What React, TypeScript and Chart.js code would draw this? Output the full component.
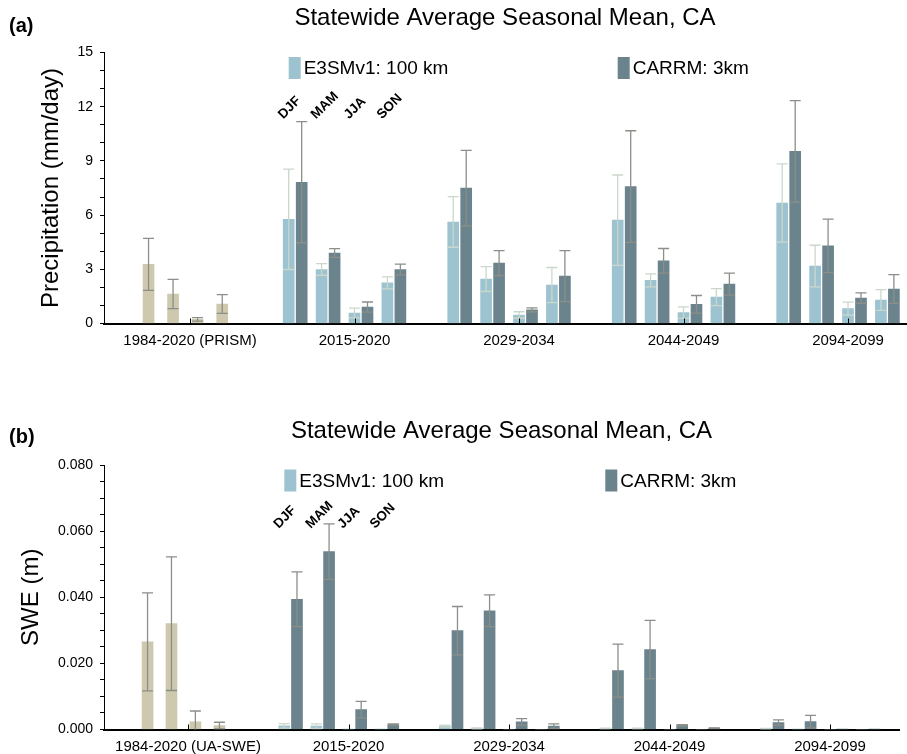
import React, { useEffect, useRef } from "react";
import { Chart, registerables } from "chart.js";

Chart.register(...registerables);
Chart.defaults.font.family = "'Liberation Sans', Arial, Helvetica, sans-serif";

// ---------- categories ----------
const periodsPr = ["1984-2020 (PRISM)", "2015-2020", "2029-2034", "2044-2049", "2094-2099"];
const periodsSwe = ["1984-2020 (UA-SWE)", "2015-2020", "2029-2034", "2044-2049", "2094-2099"];
const seasons = ["DJF", "MAM", "JJA", "SON"];
const modelNames = ["E3SMv1: 100 km", "CARRM: 3km"];

// ---------- tick labels ----------
const yLabelsPr = [0, 3, 6, 9, 12, 15];
const yLabelsSwe = ["0.000", "0.020", "0.040", "0.060", "0.080"];

// ---------- precipitation (mm/day) ----------
const prismPr = [3.27, 1.63, 0.23, 1.08];
const prismPrErr = [1.44, 0.81, 0.1, 0.52];
// rows: 2015-2020, 2029-2034, 2044-2049, 2094-2099 ; cols: DJF MAM JJA SON
const e3smPr = [
  [5.77, 2.99, 0.58, 2.25],
  [5.62, 2.46, 0.47, 2.13],
  [5.72, 2.39, 0.6, 1.46],
  [6.67, 3.18, 0.82, 1.3],
];
const e3smPrErr = [
  [2.78, 0.32, 0.27, 0.33],
  [1.4, 0.69, 0.18, 0.97],
  [2.5, 0.36, 0.32, 0.47],
  [2.17, 1.15, 0.36, 0.57],
];
const carrmPr = [
  [7.82, 3.9, 0.91, 2.99],
  [7.49, 3.34, 0.75, 2.62],
  [7.58, 3.47, 1.06, 2.18],
  [9.53, 4.3, 1.41, 1.91],
];
const carrmPrErr = [
  [3.35, 0.24, 0.28, 0.3],
  [2.09, 0.69, 0.11, 1.41],
  [3.09, 0.68, 0.49, 0.61],
  [2.81, 1.48, 0.29, 0.8],
];

// ---------- snow water equivalent (m) ----------
const uaSwe = [0.0265, 0.032, 0.0023, 0.0012];
const uaSweErr = [0.0148, 0.0202, 0.0033, 0.001];
const e3smSwe = [
  [0.0011, 0.001, 0.0001, 0.0001],
  [0.001, 0.0003, 0.0, 0.0],
  [0.0003, 0.0003, 0.0, 0.0],
  [0.0002, 0.0001, 0.0, 0.0],
];
const e3smSweErr = [
  [0.0007, 0.0007, 0, 0],
  [0.0003, 0.0002, 0, 0],
  [0.0001, 0.0001, 0, 0],
  [0.0001, 0, 0, 0],
];
const carrmSwe = [
  [0.0394, 0.0538, 0.006, 0.0015],
  [0.0299, 0.0359, 0.0023, 0.001],
  [0.0178, 0.0242, 0.0013, 0.0004],
  [0.0021, 0.0024, 0.0001, 0.0001],
];
const carrmSweErr = [
  [0.0083, 0.0084, 0.0025, 0.0002],
  [0.0073, 0.0048, 0.001, 0.0007],
  [0.008, 0.0088, 0.0002, 0.0001],
  [0.0008, 0.0019, 0, 0],
];

// ---------- layout constants (in x-axis units, one unit per period) ----------
const obsOffsets = [-0.252, -0.103, 0.046, 0.196];
const seasonOffsets = [-0.4, -0.2, 0, 0.2];
const modelShift = 0.079;

const COLORS = {
  obs: "#cec8ae",
  e3sm: "#9dc3d0",
  carrm: "#6a838c",
  errLight: "#cbd7cb",
  errDark: "#8b8f87",
};

type PanelCfg = {
  letter: string;
  periods: string[];
  obs: number[];
  obsErr: number[];
  e3sm: number[][];
  e3smErr: number[][];
  carrm: number[][];
  carrmErr: number[][];
  yMax: number;
  yStep: number;
  yLabelEvery: number;
  yLabels: (string | number)[];
  yTitle: string;
  yTitlePad: number;
  xMin: number;
  xMax: number;
  height: number;
  chartBottom: number;
  padRight: number;
  titlePadTop: number;
  titlePadBottom: number;
  letterY: number;
  seasonY: number;
  xLabelPad: number;
};

function buildDatasets(cfg: PanelCfg) {
  const obsData = cfg.obs.map((v, s) => ({ x: 0 + obsOffsets[s], y: v }));
  const e3smData: { x: number; y: number }[] = [];
  const carrmData: { x: number; y: number }[] = [];
  const e3smErr: number[] = [];
  const carrmErr: number[] = [];
  cfg.e3sm.forEach((row, p) =>
    row.forEach((v, s) => {
      e3smData.push({ x: p + 1 + seasonOffsets[s], y: v });
      e3smErr.push(cfg.e3smErr[p][s]);
    })
  );
  cfg.carrm.forEach((row, p) =>
    row.forEach((v, s) => {
      carrmData.push({ x: p + 1 + seasonOffsets[s] + modelShift, y: v });
      carrmErr.push(cfg.carrmErr[p][s]);
    })
  );
  return [
    { label: "Observed", data: obsData, backgroundColor: COLORS.obs, errors: cfg.obsErr, errColor: COLORS.errDark },
    { label: modelNames[0], data: e3smData, backgroundColor: COLORS.e3sm, errors: e3smErr, errColor: COLORS.errLight },
    { label: modelNames[1], data: carrmData, backgroundColor: COLORS.carrm, errors: carrmErr, errColor: COLORS.errDark },
  ].map((d) => ({ ...d, barThickness: 11, grouped: false, borderWidth: 0 }));
}

function makeDecor(cfg: PanelCfg) {
  return {
    id: "decor",
    afterDatasetsDraw(chart: any) {
      const { ctx, chartArea } = chart;
      const y = chart.scales.y;
      ctx.save();
      ctx.beginPath();
      ctx.rect(chartArea.left, chartArea.top, chartArea.right - chartArea.left, chartArea.bottom - chartArea.top);
      ctx.clip();
      chart.data.datasets.forEach((ds: any, di: number) => {
        const meta = chart.getDatasetMeta(di);
        meta.data.forEach((el: any, i: number) => {
          const e = ds.errors[i];
          if (!e) return;
          const v = ds.data[i].y;
          const top = y.getPixelForValue(v + e);
          const bot = y.getPixelForValue(v - e);
          ctx.strokeStyle = ds.errColor;
          ctx.lineWidth = 1.3;
          ctx.beginPath();
          ctx.moveTo(el.x, top);
          ctx.lineTo(el.x, bot);
          ctx.moveTo(el.x - 5.5, top);
          ctx.lineTo(el.x + 5.5, top);
          ctx.moveTo(el.x - 5.5, bot);
          ctx.lineTo(el.x + 5.5, bot);
          ctx.stroke();
        });
      });
      ctx.restore();
    },
    afterDraw(chart: any) {
      const { ctx, chartArea } = chart;
      const x = chart.scales.x;
      ctx.save();
      // inner x ticks
      ctx.strokeStyle = "#000";
      ctx.lineWidth = 1;
      cfg.periods.forEach((_, i) => {
        const px = Math.round(x.getPixelForValue(i)) + 0.5;
        ctx.beginPath();
        ctx.moveTo(px, chartArea.bottom);
        ctx.lineTo(px, chartArea.bottom - 5);
        ctx.stroke();
      });
      // legend
      const legendX = [0.6, 2.6];
      const legendColors = [COLORS.e3sm, COLORS.carrm];
      ctx.font = "19px 'Liberation Sans', Arial, sans-serif";
      ctx.textBaseline = "middle";
      ctx.textAlign = "left";
      legendX.forEach((lx, i) => {
        const px = x.getPixelForValue(lx);
        const top = chartArea.top + 4.5;
        ctx.fillStyle = legendColors[i];
        ctx.fillRect(px, top, 12, 22);
        ctx.fillStyle = "#000";
        ctx.fillText(modelNames[i], px + 15, top + 12);
      });
      // season labels
      ctx.font = "bold 13.5px 'Liberation Sans', Arial, sans-serif";
      ctx.textBaseline = "alphabetic";
      seasons.forEach((s, i) => {
        const px = x.getPixelForValue(1 + seasonOffsets[i] + modelShift / 2) - 12;
        const py = chartArea.top + cfg.seasonY;
        ctx.save();
        ctx.translate(px, py);
        ctx.rotate(-Math.PI / 4);
        ctx.fillStyle = "#000";
        ctx.fillText(s, 0, 0);
        ctx.restore();
      });
      // panel letter
      ctx.font = "bold 20px 'Liberation Sans', Arial, sans-serif";
      ctx.textBaseline = "middle";
      ctx.fillStyle = "#000";
      ctx.fillText(cfg.letter, 9, cfg.letterY);
      ctx.restore();
    },
  };
}

function Panel({ cfg, top }: { cfg: PanelCfg; top: number }) {
  const ref = useRef<HTMLCanvasElement | null>(null);
  useEffect(() => {
    if (!ref.current) return;
    const nTicks = Math.round(cfg.yMax / cfg.yStep);
    const chart = new Chart(ref.current, {
      type: "bar",
      data: { datasets: buildDatasets(cfg) as any },
      options: {
        responsive: false,
        animation: false,
        events: [],
        layout: { padding: { left: 0, right: cfg.padRight, top: 0, bottom: 0 } },
        plugins: {
          legend: { display: false },
          tooltip: { enabled: false },
          title: {
            display: true,
            text: "Statewide Average Seasonal Mean, CA",
            fullSize: false,
            color: "#000",
            font: { size: 24, weight: "normal" },
            padding: { top: cfg.titlePadTop, bottom: cfg.titlePadBottom },
          },
        },
        scales: {
          x: {
            type: "linear",
            min: cfg.xMin,
            max: cfg.xMax,
            offset: false,
            afterBuildTicks: (s: any) => {
              s.ticks = cfg.periods.map((_, i) => ({ value: i }));
            },
            afterFit: (s: any) => {
              s.height = cfg.height - cfg.chartBottom;
            },
            grid: { display: true, drawOnChartArea: false, drawTicks: false, offset: false },
            border: { display: true, color: "#000", width: 2 },
            ticks: {
              autoSkip: false,
              maxRotation: 0,
              color: "#000",
              font: { size: 15 },
              padding: cfg.xLabelPad,
              callback: (v: any) => cfg.periods[Math.round(v)] ?? "",
            },
          },
          y: {
            type: "linear",
            min: 0,
            max: cfg.yMax,
            afterBuildTicks: (s: any) => {
              const t = [];
              for (let k = 0; k <= nTicks; k++) t.push({ value: +(k * cfg.yStep).toFixed(6) });
              s.ticks = t;
            },
            afterFit: (s: any) => {
              s.width = 104;
            },
            grid: { drawOnChartArea: false, drawTicks: true, tickLength: 4, tickColor: "#000", color: "#000" },
            border: { display: true, color: "#000", width: 1 },
            ticks: {
              autoSkip: false,
              color: "#000",
              font: { size: 14 },
              padding: 7,
              callback: (_v: any, idx: number) =>
                idx % cfg.yLabelEvery === 0 ? String(cfg.yLabels[idx / cfg.yLabelEvery]) : "",
            },
            title: {
              display: true,
              text: cfg.yTitle,
              color: "#000",
              font: { size: 24 },
              padding: { top: cfg.yTitlePad, bottom: 0 },
            },
          },
        },
      } as any,
      plugins: [makeDecor(cfg)],
    });
    return () => chart.destroy();
  }, [cfg]);
  return (
    <canvas
      ref={ref}
      width={907}
      height={cfg.height}
      style={{ position: "absolute", left: 0, top, width: 907, height: cfg.height, display: "block" }}
    />
  );
}

const panelA: PanelCfg = {
  letter: "(a)",
  periods: periodsPr,
  obs: prismPr,
  obsErr: prismPrErr,
  e3sm: e3smPr,
  e3smErr: e3smPrErr,
  carrm: carrmPr,
  carrmErr: carrmPrErr,
  yMax: 15,
  yStep: 1,
  yLabelEvery: 3,
  yLabels: yLabelsPr,
  yTitle: "Precipitation (mm/day)",
  yTitlePad: 37,
  xMin: (104 - 190) / 164.5,
  xMax: (906 - 190) / 164.5,
  height: 405,
  chartBottom: 323.5,
  padRight: 1,
  titlePadTop: 4.1,
  titlePadBottom: 19.6,
  letterY: 26,
  seasonY: 67,
  xLabelPad: 8.5,
};

const panelB: PanelCfg = {
  letter: "(b)",
  periods: periodsSwe,
  obs: uaSwe,
  obsErr: uaSweErr,
  e3sm: e3smSwe,
  e3smErr: e3smSweErr,
  carrm: carrmSwe,
  carrmErr: carrmSweErr,
  yMax: 0.08,
  yStep: 0.005,
  yLabelEvery: 4,
  yLabels: yLabelsSwe,
  yTitle: "SWE (m)",
  yTitlePad: 17,
  xMin: (104 - 188) / 160.5,
  xMax: (899 - 188) / 160.5,
  height: 349,
  chartBottom: 324.5,
  padRight: 8,
  titlePadTop: 12.1,
  titlePadBottom: 19.1,
  letterY: 32.5,
  seasonY: 64,
  xLabelPad: 8.5,
};

export default function App() {
  return (
    <div style={{ position: "absolute", left: 0, top: 0, width: 907, height: 754, background: "#fff" }}>
      <Panel cfg={panelA} top={0} />
      <Panel cfg={panelB} top={405} />
    </div>
  );
}
